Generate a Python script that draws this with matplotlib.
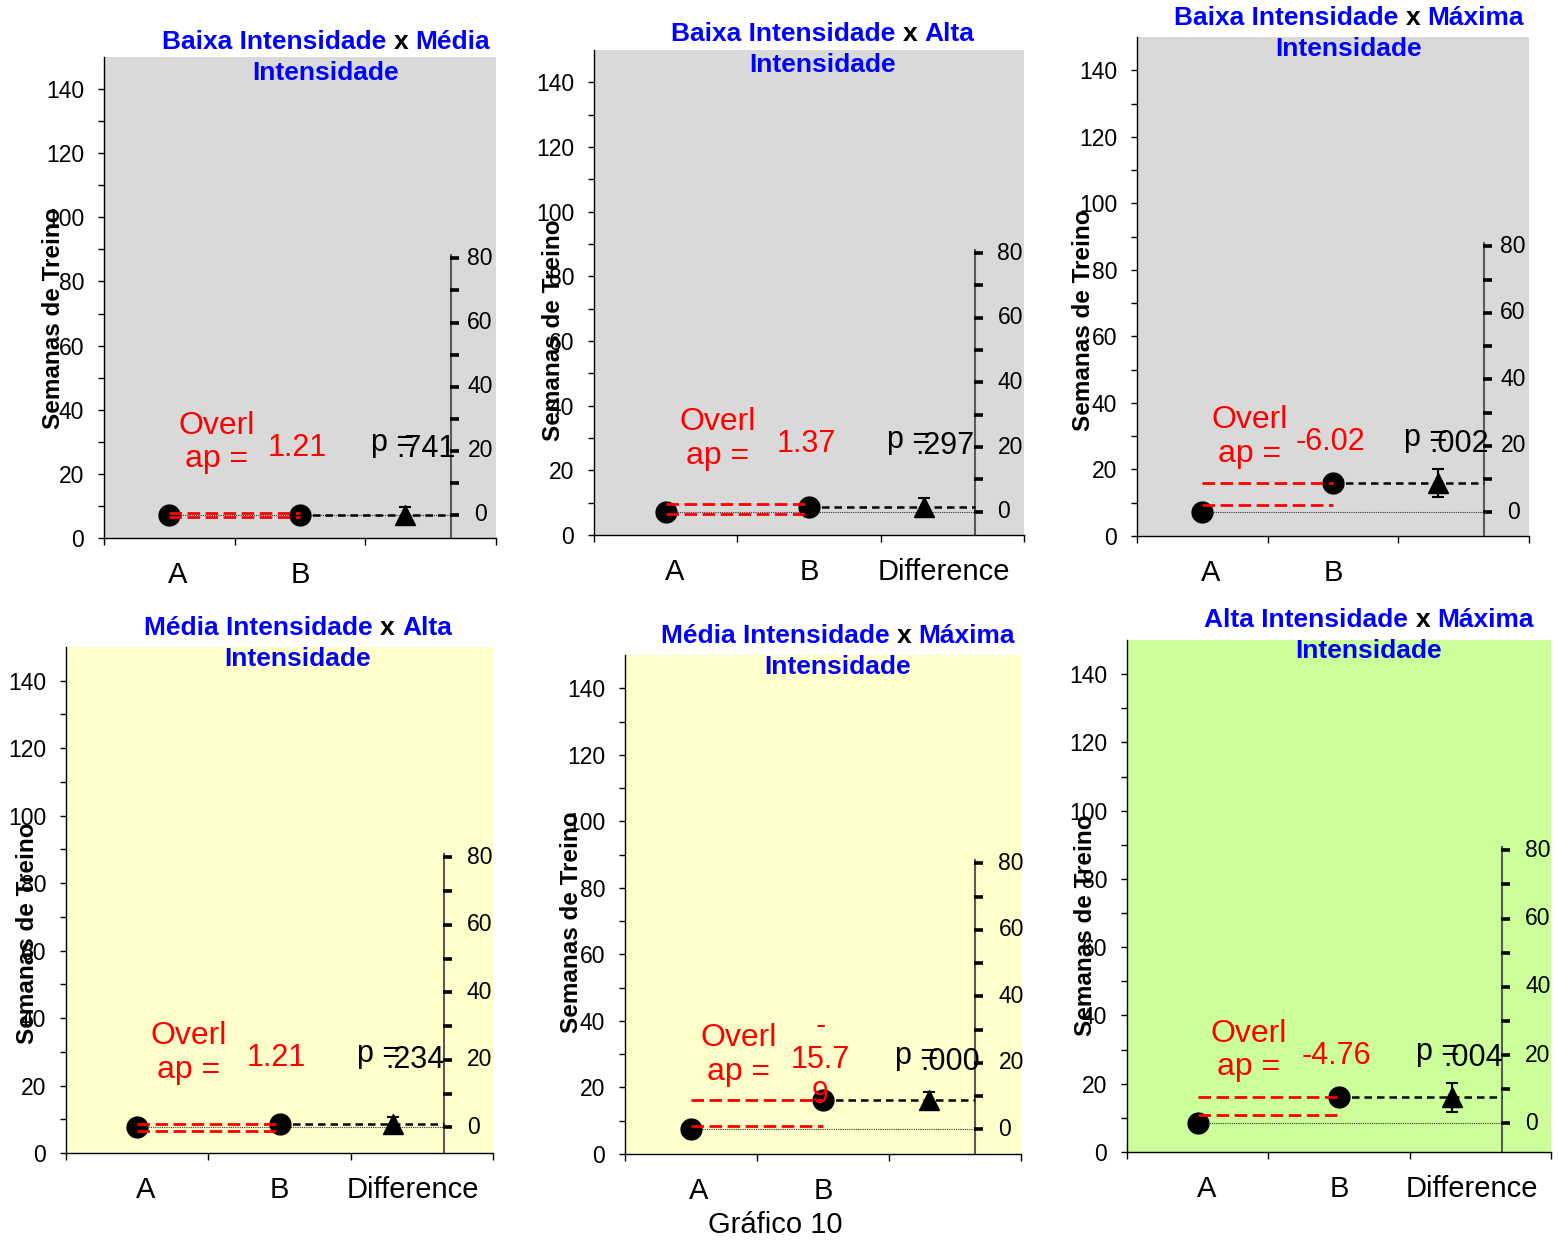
import matplotlib
matplotlib.use("Agg")
import matplotlib.pyplot as plt
import numpy as np
from matplotlib.path import Path

plt.rcParams['font.family'] = ['Liberation Sans', 'DejaVu Sans']

W, H = 1558, 1241

# comparisons: first group vs second group
group_a = ["Baixa", "Baixa", "Baixa", "Média", "Média", "Alta"]
group_b = ["Média", "Alta", "Máxima", "Alta", "Máxima", "Máxima"]
mean_a = [7.2, 7.2, 7.1, 7.6, 7.4, 8.4]
mean_b = [7.2, 8.6, 15.9, 8.6, 16.2, 16.0]
diff_err = [2.5, 2.8, 4.1, 2.0, 2.5, 4.3]
overlap_hi = [7.8, 9.5, 15.9, 8.5, 16.2, 16.0]
overlap_lo = [6.7, 6.5, 9.25, 6.6, 8.4, 10.7]
overlap_txt = ["1.21", "1.37", "-6.02", "1.21", "-\n15.7\n9", "-4.76"]
p_txt = [".741", ".297", ".002", ".234", ".000", ".004"]
cat_labels = [["A", "B", ""], ["A", "B", "Difference"], ["A", "B", ""],
              ["A", "B", "Difference"], ["A", "B", ""], ["A", "B", "Difference"]]
y_ticks = list(range(0, 141, 20))
diff_ticks = list(range(0, 81, 10))
diff_labels = list(range(0, 81, 20))

# layout (pixels): plot frame, title centre, y label centre, colours
frames = [(104, 57, 496, 538), (594, 50, 1024, 535), (1137, 37, 1529, 536),
          (66, 647, 493, 1153), (625, 655, 1021, 1154), (1127, 640, 1551, 1152)]
title_pos = [(326, 42), (823, 34), (1349, 18), (298, 628), (838, 636), (1369, 620)]
ylab_pos = [(53, 318), (554, 330), (1083, 320), (28, 933), (572, 922), (1085, 925)]
bg = ["#D9D9D9", "#D9D9D9", "#D9D9D9", "#FFFFCC", "#FFFFCC", "#CCFF99"]
narrow = [True, False, True, False, False, False]

X_A, X_B, X_D, X_AX = 0.5, 1.5, 2.3, 2.655
label_x = [0.56, 1.5, 2.44]
tick_mark = Path([(-0.15, 0), (1, 0)])

fig = plt.figure(figsize=(W / 100, H / 100), dpi=100)
renderer = fig.canvas.get_renderer()


def fx(x):
    return x / W


def fy(y):
    return 1 - y / H


def title_line(cx, cy, parts, size=19):
    texts = [fig.text(0, fy(cy), s, color=c, fontsize=size, fontweight='bold',
                      va='center', ha='left') for s, c in parts]
    widths = [t.get_window_extent(renderer).width for t in texts]
    gap = size * 100 / 72 * 0.278
    x = cx - (sum(widths) + gap * (len(parts) - 1)) / 2
    for t, w in zip(texts, widths):
        t.set_x(fx(x))
        x += w + gap


for i in range(6):
    l, t, r, b = frames[i]
    ax = fig.add_axes([fx(l), fy(b), (r - l) / W, (b - t) / H])
    ax.set_facecolor(bg[i])
    ax.set_xlim(0, 3)
    ax.set_ylim(0, 150)
    for s in ("top", "right"):
        ax.spines[s].set_visible(False)
    for s in ("left", "bottom"):
        ax.spines[s].set_color("black")
        ax.spines[s].set_linewidth(1)

    ax.set_yticks(y_ticks)
    ax.set_yticks(np.arange(10, 150, 20), minor=True)
    ax.tick_params(axis='y', which='both', direction='out', length=4.3, width=1,
                   labelsize=16.5, pad=10)
    ax.set_xticks([0, 1, 2, 3])
    ax.set_xticklabels([])
    ax.set_xticks(label_x, minor=True)
    ax.set_xticklabels(cat_labels[i], minor=True)
    ax.tick_params(axis='x', which='major', direction='out', length=5, width=1)
    ax.tick_params(axis='x', which='minor', length=0, labelsize=21, pad=16.5)

    a, bm = mean_a[i], mean_b[i]

    # difference axis, zero at the mean of A
    ax.plot([X_AX, X_AX], [0, a + 81], color="#5a5a5a", lw=1.5, zorder=2)
    ax.plot([X_AX] * len(diff_ticks), a + np.array(diff_ticks), ls='none',
            marker=tick_mark, ms=11, mew=2.6, color='black', zorder=3)
    for v in diff_labels:
        if narrow[i]:
            ax.annotate(str(v), xy=(X_AX, a + v), xytext=(21, 0),
                        textcoords='offset points', ha='center', va='center',
                        fontsize=16.5)
        else:
            ax.annotate(str(v), xy=(X_AX, a + v), xytext=(16.5, 0),
                        textcoords='offset points', ha='left', va='center',
                        fontsize=16.5)

    # reference lines
    ax.plot([X_A, X_AX], [a, a], ls=(0, (1, 1)), color="#333333", lw=0.8, zorder=2)
    ax.plot([X_B, X_AX], [bm, bm], ls=(0, (3, 2)), color='black', lw=1.8, zorder=3)

    # means and difference
    ax.plot([X_A], [a], 'o', ms=15, color='black', zorder=5)
    ax.plot([X_B], [bm], 'o', ms=15, color='black', zorder=5)
    ax.errorbar([X_D], [a + (bm - a)], yerr=[diff_err[i]], fmt='^', ms=15,
                color='black', ecolor='black', elinewidth=1.5, capsize=4.5,
                capthick=1.5, zorder=5)

    # overlap lines
    ax.plot([X_A, X_B], [overlap_hi[i]] * 2, ls=(0, (4.5, 2)), color='red', lw=2, zorder=6)
    ax.plot([X_A, X_B], [overlap_lo[i]] * 2, ls=(0, (4.5, 2)), color='red', lw=2, zorder=6)

    ax.text(0.86, 29.7, "Overl\nap =", color='red', fontsize=23, ha='center',
            va='center', linespacing=1.15, zorder=7)
    ax.text(1.48, 28.2, overlap_txt[i], color='red', fontsize=22, ha='center',
            va='center', linespacing=1.2, zorder=7)
    ax.text(2.045, 27.0, "p =", fontsize=22, ha='left', va='baseline', zorder=7)
    ax.text(2.24, 25.2, p_txt[i], fontsize=22, ha='left', va='baseline', zorder=7)

    # title and axis label
    cx, cy = title_pos[i]
    title_line(cx, cy, [(group_a[i] + " Intensidade", "#0000FF"), ("x", "black"),
                        (group_b[i], "#0000FF")])
    title_line(cx, cy + 31, [("Intensidade", "#0000FF")])
    lx, ly = ylab_pos[i]
    fig.text(fx(lx), fy(ly), "Semanas de Treino", rotation=90, fontsize=17.5,
             fontweight='bold', ha='center', va='center')

fig.text(fx(775), fy(1225), "Gráfico 10", fontsize=21, ha='center', va='center')

fig.savefig("out.png", dpi=100, facecolor='white')
